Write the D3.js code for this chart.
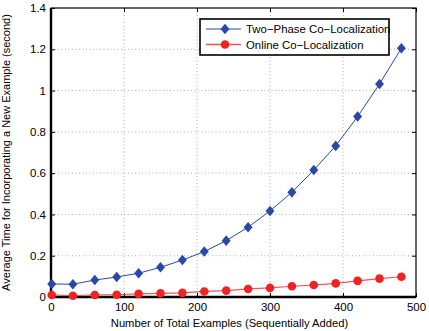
<!DOCTYPE html>
<html>
<head>
<meta charset="utf-8">
<script src="https://cdn.jsdelivr.net/npm/d3@7"></script>
<style>
  body { margin: 0; background: #fff; }
  svg text { font-family: "Liberation Sans", Arial, sans-serif; fill: #000; }
  .grid line { stroke: #999; stroke-dasharray: 1,2.5; stroke-width: 0.8; }
</style>
</head>
<body>
<div id="chart"></div>
<script>
// examples added (x) and average time per new example (seconds)
var examples = [1, 30, 60, 90, 120, 150, 180, 210, 240, 270, 300, 330, 360, 390, 420, 450, 480];
var twoPhase = [0.063, 0.062, 0.082, 0.097, 0.115, 0.144, 0.179, 0.22, 0.273, 0.338, 0.417, 0.507, 0.615, 0.732, 0.874, 1.032, 1.205];
var online = [0.01, 0.006, 0.01, 0.011, 0.015, 0.018, 0.02, 0.027, 0.031, 0.039, 0.044, 0.052, 0.058, 0.066, 0.078, 0.089, 0.098];
var xTicks = [0, 100, 200, 300, 400, 500];
var yTicks = [0, 0.2, 0.4, 0.6, 0.8, 1, 1.2, 1.4];
var seriesNames = ["Two\u2212Phase Co\u2212Localization", "Online Co\u2212Localization"];

var margin = { top: 8, right: 13, bottom: 34, left: 51 };
var width = 429 - margin.left - margin.right,
    height = 331 - margin.top - margin.bottom;

var svg = d3.select("#chart").append("svg")
    .attr("width", 429)
    .attr("height", 331)
    .append("g")
    .attr("transform", "translate(" + margin.left + "," + margin.top + ")");

var x = d3.scaleLinear().domain([0, 500]).range([0, width]);
var y = d3.scaleLinear().domain([0, 1.4]).range([height, 0]);

// grid
svg.append("g").attr("class", "grid")
    .selectAll("line.v").data(xTicks.slice(1, -1)).enter().append("line")
    .attr("x1", d => x(d)).attr("x2", d => x(d))
    .attr("y1", 0).attr("y2", height);
svg.select(".grid")
    .selectAll("line.h").data(yTicks.slice(1, -1)).enter().append("line")
    .attr("x1", 0).attr("x2", width)
    .attr("y1", d => y(d)).attr("y2", d => y(d));

// axes with inward ticks
var xAxis = d3.axisBottom(x).tickValues(xTicks).tickSize(-4).tickPadding(6).tickFormat(d3.format("d"));
var yAxis = d3.axisLeft(y).tickValues(yTicks).tickSize(-4).tickPadding(5).tickFormat(d => d === 0 ? "0" : d3.format("")(+d.toFixed(1)));

svg.append("g").attr("class", "x-axis")
    .attr("transform", "translate(0," + height + ")")
    .call(xAxis);
svg.append("g").attr("class", "y-axis").call(yAxis);
svg.append("g").attr("transform", "translate(0,0)")
    .call(d3.axisTop(x).tickValues(xTicks).tickSize(-4).tickFormat(""));
svg.append("g").attr("transform", "translate(" + width + ",0)")
    .call(d3.axisRight(y).tickValues(yTicks).tickSize(-4).tickFormat(""));

svg.selectAll(".domain").remove();
svg.selectAll(".tick line").attr("stroke", "#000");
svg.selectAll(".x-axis text, .y-axis text").attr("font-size", 11.5).style("font-family", "Liberation Sans, Arial, sans-serif");

// box
svg.append("rect").attr("width", width).attr("height", height)
    .attr("fill", "none").attr("stroke", "#000").attr("stroke-width", 1.2);
svg.append("line").attr("x1", 0).attr("x2", 0).attr("y1", 0).attr("y2", height)
    .attr("stroke", "#000").attr("stroke-width", 2.4);
svg.append("line").attr("x1", 0).attr("x2", width).attr("y1", height).attr("y2", height)
    .attr("stroke", "#000").attr("stroke-width", 2.4);

// series
var blue = "#2a48a8", red = "#ee2424", redLine = "#f05555";
var line = d3.line().x(d => x(d[0])).y(d => y(d[1]));

var blueData = examples.map((e, i) => [e, twoPhase[i]]);
var redData = examples.map((e, i) => [e, online[i]]);

svg.append("path").datum(blueData).attr("d", line)
    .attr("fill", "none").attr("stroke", blue).attr("stroke-width", 1);
var diamond = d3.symbol().type(d3.symbolDiamond).size(48);
var diaScale = " scale(1.2,0.82)";
svg.selectAll(".dia").data(blueData).enter().append("path")
    .attr("class", "dia")
    .attr("d", diamond)
    .attr("transform", d => "translate(" + x(d[0]) + "," + y(d[1]) + ")" + diaScale)
    .attr("fill", blue);

svg.append("path").datum(redData).attr("d", line)
    .attr("fill", "none").attr("stroke", redLine).attr("stroke-width", 1.2);
svg.selectAll(".dot").data(redData).enter().append("circle")
    .attr("class", "dot")
    .attr("cx", d => x(d[0])).attr("cy", d => y(d[1]))
    .attr("r", 4.3)
    .attr("fill", red);

// axis titles
svg.append("text")
    .attr("x", width / 2 - 4).attr("y", height + 30)
    .attr("text-anchor", "middle").attr("font-size", 11.2)
    .text("Number of Total Examples (Sequentially Added)");
svg.append("text")
    .attr("transform", "translate(" + (-41) + "," + (height / 2) + ") rotate(-90)")
    .attr("text-anchor", "middle").attr("font-size", 11)
    .text("Average Time for Incorporating a New Example (second)");

// legend
var lg = svg.append("g").attr("transform", "translate(" + (200 - margin.left) + "," + (19 - margin.top) + ")");
lg.append("rect").attr("width", 189).attr("height", 36)
    .attr("fill", "#fff").attr("stroke", "#000").attr("stroke-width", 1.6);
var colors = [[blue, blue], [redLine, red]];
seriesNames.forEach(function(name, i) {
    var yy = 10 + i * 15.5;
    lg.append("line").attr("x1", 6).attr("x2", 41).attr("y1", yy).attr("y2", yy)
        .attr("stroke", colors[i][0]).attr("stroke-width", i === 0 ? 1 : 1.4);
    if (i === 0) {
        lg.append("path").attr("d", diamond)
            .attr("transform", "translate(25," + yy + ")" + diaScale)
            .attr("fill", blue);
    } else {
        lg.append("circle").attr("cx", 25).attr("cy", yy).attr("r", 4.3).attr("fill", red);
    }
    lg.append("text").attr("x", 46).attr("y", yy + 4)
        .attr("font-size", 11.4).text(name);
});
</script>
</body>
</html>
